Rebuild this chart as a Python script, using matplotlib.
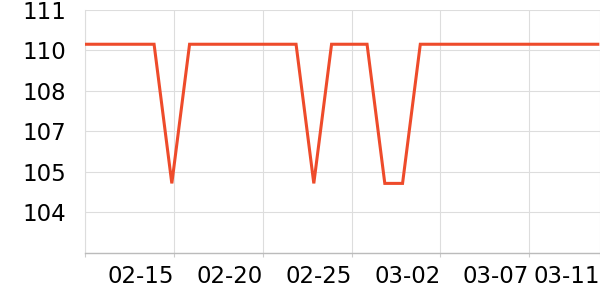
import pandas as pd
import matplotlib.pyplot as plt
import matplotlib.dates as mdates

# daily readings, 2023-02-10 .. 2023-03-11 (plotted a few hours early, like the reference)
dates = pd.date_range('2023-02-10', periods=30, freq='D') - pd.Timedelta(hours=3)
high = 109.73
low = 104.57
values = ([high] * 5 + [low] + [high] * 7 + [low] + [high] * 3 + [low, low] + [high] * 11)

y_ticks = [102, 103.5, 105, 106.5, 108, 109.5, 111]
y_labels = ['', '104', '105', '107', '108', '110', '111']
x_ticks = ['2023-02-10', '2023-02-15', '2023-02-20', '2023-02-25', '2023-03-02', '2023-03-07', '2023-03-11']
x_labels = ['', '02-15', '02-20', '02-25', '03-02', '03-07', '03-11']

fig = plt.figure(figsize=(6, 3), dpi=100)
ax = fig.add_axes([85.3 / 600, 1 - 252.7 / 300, 1 - 85.3 / 600, (252.7 - 10) / 300])

ax.plot(dates, values, color='#EE4B2B', linewidth=2.2, solid_joinstyle='miter', zorder=3)

ax.set_xlim(pd.Timestamp('2023-02-10'), pd.Timestamp('2023-03-11'))
ax.set_ylim(102, 111)

ax.set_yticks(y_ticks)
ax.set_yticklabels(y_labels)
ax.set_xticks(pd.to_datetime(x_ticks))
ax.set_xticklabels(x_labels, ha='right')

ax.grid(True, color='#dddddd', linewidth=0.8)
ax.set_axisbelow(True)
for s in ['top', 'right']:
    ax.spines[s].set_visible(False)
ax.spines['left'].set_color('#dddddd')
ax.spines['left'].set_linewidth(0.8)
ax.spines['bottom'].set_color('#bbbbbb')
ax.spines['bottom'].set_linewidth(1.0)

ax.tick_params(axis='y', length=0, pad=14, labelsize=16.5, labelcolor='black')
ax.tick_params(axis='x', length=3, color='#cccccc', pad=6, labelsize=16.5, labelcolor='black')

fig.savefig('out.png', dpi=100)
